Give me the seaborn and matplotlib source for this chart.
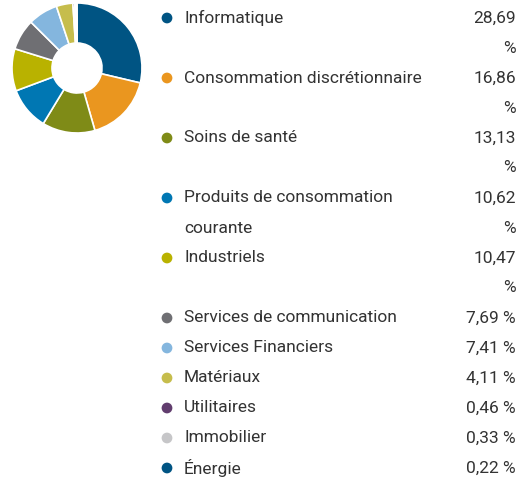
import matplotlib
matplotlib.use("Agg")
import matplotlib.pyplot as plt
import seaborn as sns

sectors = [
    "Informatique",
    "Consommation discrétionnaire",
    "Soins de santé",
    "Produits de consommation\ncourante",
    "Industriels",
    "Services de communication",
    "Services Financiers",
    "Matériaux",
    "Utilitaires",
    "Immobilier",
    "Énergie",
]
weights = [28.69, 16.86, 13.13, 10.62, 10.47, 7.69, 7.41, 4.11, 0.46, 0.33, 0.22]
colors = [
    "#005483", "#ea961f", "#7f8b17", "#0077b3", "#b9b200",
    "#6f6f73", "#84b6de", "#c6bd4c", "#613d6e", "#c6c6c8", "#005483",
]

sns.set_theme(style="white")
plt.rcParams["font.family"] = ["Roboto", "DejaVu Sans"]

W, H = 520, 478
fig = plt.figure(figsize=(W / 100, H / 100), dpi=100)

# donut
cx, cy, r = 77, 68, 65
ax = fig.add_axes([(cx - r) / W, 1 - (cy + r) / H, 2 * r / W, 2 * r / H])
ax.pie(weights, colors=colors, startangle=90, counterclock=False, radius=1,
       wedgeprops=dict(width=40 / 65, edgecolor="white", linewidth=1.2))
ax.set_xlim(-1, 1)
ax.set_ylim(-1, 1)
ax.set_aspect("equal")
ax.axis("off")

# legend list
lg = fig.add_axes([0, 0, 1, 1])
lg.set_xlim(0, W)
lg.set_ylim(H, 0)
lg.axis("off")

y0, step = 18, 30
line = 0
txt_color = "#333333"
for name, val, col in zip(sectors, weights, colors):
    s = f"{val:.2f}".replace(".", ",")
    vlines = [s, "%"] if val >= 10 else [s + " %"]
    nlines = name.split("\n")
    y = y0 + line * step
    lg.scatter([167], [y], s=60, color=col, edgecolors="none")
    for i, t in enumerate(nlines):
        lg.text(184, y + i * step, t, fontsize=12.5, color=txt_color,
                va="center", ha="left")
    for i, t in enumerate(vlines):
        lg.text(516, y + i * step, t, fontsize=12.5, color=txt_color,
                va="center", ha="right")
    line += max(len(nlines), len(vlines))

fig.savefig("out.png", dpi=100)
